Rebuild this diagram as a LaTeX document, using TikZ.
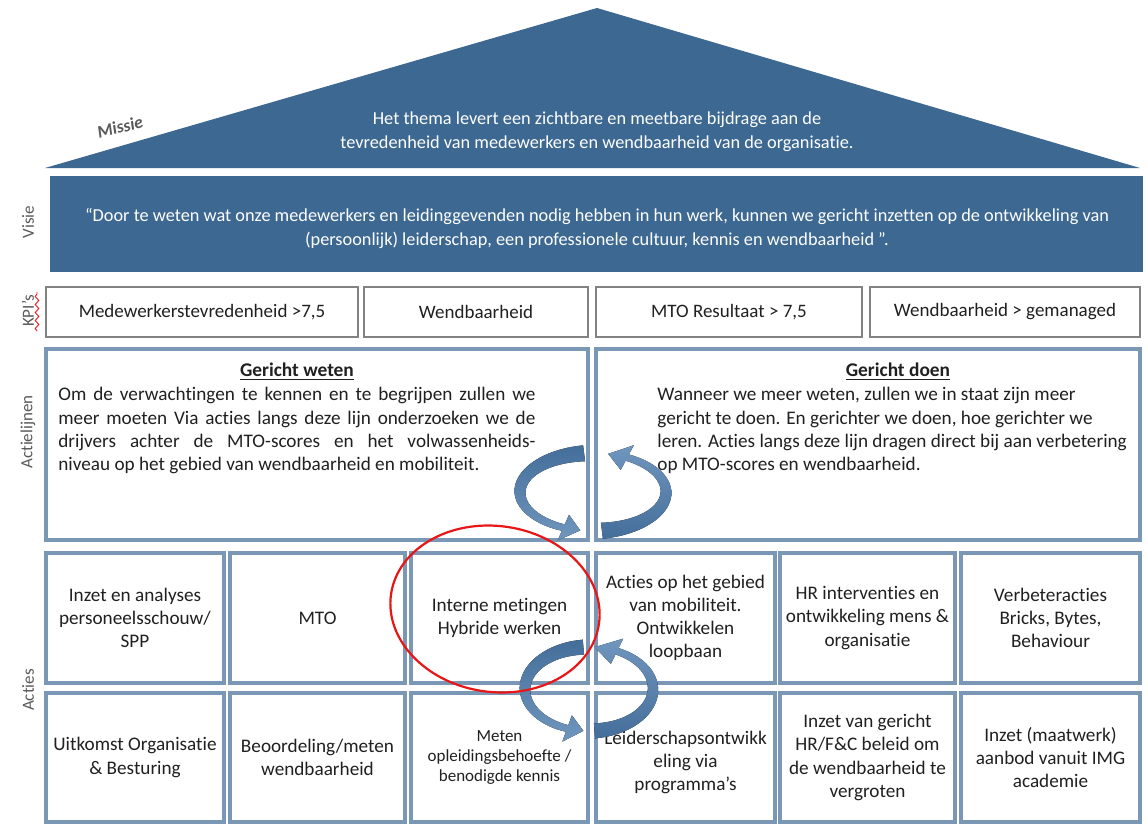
\documentclass[tikz,border=0pt]{standalone}
\usepackage{fontspec}
\setmainfont{Carlito}[Ligatures=NoCommon]
\usetikzlibrary{shadows,decorations.pathmorphing}

\definecolor{roofblue}{RGB}{60,104,145}
\definecolor{boxblue}{RGB}{122,151,182}
\definecolor{kpigray}{RGB}{130,130,130}
\definecolor{labelgray}{RGB}{89,89,89}
\definecolor{txt}{RGB}{32,32,32}
\definecolor{arrowdark}{RGB}{68,110,154}
\definecolor{arrowlight}{RGB}{112,150,190}
\definecolor{ringred}{RGB}{232,22,22}

% tapered circular arrow along an ellipse:
% #1,#2 centre, #3,#4 radii, #5 tail angle, #6 head-base angle, #7 tip angle,
% #8 tail width, #9 width just before the head
\newcommand\curlarrow[9]{%
  \fill[arrowfill]
    plot[domain=#5:#6, samples=40, variable=\ang]
      ({#1+(#3+0.5*(#8+(#9-#8)*(\ang-#5)/(#6-#5)))*cos(\ang)},
       {#2-(#4+0.5*(#8+(#9-#8)*(\ang-#5)/(#6-#5)))*sin(\ang)})
    -- ({#1+(#3+14)*cos(#6)},{#2-(#4+14)*sin(#6)})
    -- ({#1+#3*cos(#7)},{#2-#4*sin(#7)})
    -- ({#1+(#3-14)*cos(#6)},{#2-(#4-14)*sin(#6)})
    -- plot[domain=#6:#5, samples=40, variable=\ang]
      ({#1+(#3-0.5*(#8+(#9-#8)*(\ang-#5)/(#6-#5)))*cos(\ang)},
       {#2-(#4-0.5*(#8+(#9-#8)*(\ang-#5)/(#6-#5)))*sin(\ang)})
    -- cycle;}

\begin{document}
\begin{tikzpicture}[x=0.5pt,y=-0.5pt,
  softshadow/.style={drop shadow={shadow xshift=0.7pt, shadow yshift=-0.7pt, opacity=0.25, fill=black!60}},
  kpibox/.style={draw=kpigray, line width=1.4pt, fill=white, softshadow, minimum height=25pt,
    inner sep=0pt, text=txt, font=\fontsize{9.5}{12}\selectfont},
  linebox/.style={draw=boxblue, line width=1.6pt, fill=white, softshadow, minimum height=95.5pt, inner sep=0pt},
  cellbox/.style={draw=boxblue, line width=1.6pt, fill=white, softshadow, inner sep=0pt,
    align=center, text=txt, font=\fontsize{9.6}{11.6}\selectfont},
  rowone/.style={cellbox, minimum height=65pt},
  rowtwo/.style={cellbox, minimum height=64.5pt},
  sidelabel/.style={rotate=90, text=labelgray, font=\fontsize{8.5}{10}\selectfont, inner sep=0pt},
  bodytext/.style={text=txt, font=\fontsize{9.6}{11.65}\selectfont, inner sep=0pt},
  headtext/.style={text=txt, font=\bfseries\fontsize{9.7}{11}\selectfont, inner sep=0pt},
  whitetext/.style={text=white, align=center, font=\fontsize{9.15}{12}\selectfont, inner sep=0pt}
]
\useasboundingbox (0,0) rectangle (1148,825);

% ---------- roof: mission ----------
\fill[roofblue] (597,8) -- (1140,168) -- (45,168) -- cycle;
\node[whitetext] (missietekst) at (597,132)
  {Het thema levert een zichtbare en meetbare bijdrage aan de\\
   tevredenheid van medewerkers en wendbaarheid van de organisatie.};
\node[rotate=15, text=labelgray, font=\bfseries\itshape\fontsize{8.8}{10}\selectfont, inner sep=0pt]
  (missie) at (120,127) {Missie};

% ---------- vision band ----------
\node[fill=roofblue, minimum width=546.5pt, minimum height=48pt, inner sep=0pt] (visie) at (596.5,224) {};
\node[whitetext] (visietekst) at (597,228)
  {“Door te weten wat onze medewerkers en leidinggevenden nodig hebben in hun werk, kunnen we gericht inzetten op de ontwikkeling van\\
   (persoonlijk) leiderschap, een professionele cultuur, kennis en wendbaarheid ”.};

% ---------- side labels ----------
\node[sidelabel] (lvisie) at (28,222) {Visie};
\node[sidelabel] (lkpi) at (28,311) {KPI's};
\node[sidelabel] (lactielijnen) at (28,432) {Actielijnen};
\node[sidelabel] (lacties) at (28,690) {Acties};
\draw[ringred, line width=0.45pt, decorate,
      decoration={snake, amplitude=0.9, segment length=4}] (37,331) -- (37,292);

% ---------- KPI row ----------
\node[kpibox, minimum width=156pt] (kpi1) at (202,312) {Medewerkerstevredenheid >7,5};
\node[kpibox, minimum width=112pt] (kpi2) at (476,312) {Wendbaarheid};
\node[kpibox, minimum width=133pt] (kpi3) at (729,312) {MTO Resultaat > 7,5};
\node[kpibox, minimum width=135pt] (kpi4) at (1005,312) {Wendbaarheid > gemanaged};

% ---------- action lines ----------
\node[linebox, minimum width=271pt] (weten) at (317,444.5) {};
\node[linebox, minimum width=272pt] (doen) at (868,444.5) {};

\node[headtext] (wetenkop) at (297,372) {\underline{Gericht weten}};
\node[bodytext, text width=238.5pt, align=justify, anchor=north west] (wetentekst) at (58,387)
  {\hyphenpenalty=10000 Om de verwachtingen te kennen en te begrijpen zullen we\linebreak
   meer moeten Via acties langs deze lijn onderzoeken we de\linebreak
   drijvers achter de MTO-scores en het volwassenheids-\linebreak
   niveau op het gebied van wendbaarheid en mobiliteit.};

\node[headtext] (doenkop) at (898,372) {\underline{Gericht doen}};
\node[bodytext, align=left, anchor=north west] (doentekst) at (657,387)
  {Wanneer we meer weten, zullen we in staat zijn meer\\
   gericht te doen. En gerichter we doen, hoe gerichter we\\
   leren. Acties langs deze lijn dragen direct bij aan verbetering\\
   op MTO-scores en wendbaarheid.};

% ---------- actions, first row ----------
\node[rowone, minimum width=89pt]   (a1) at (135,618)   {Inzet en analyses\\personeelsschouw/\\SPP};
\node[rowone, minimum width=87.5pt] (a2) at (317.5,618) {MTO};
\node[rowone, minimum width=88.5pt] (a3) at (499.5,618) {Interne metingen\\Hybride werken};
\node[rowone, minimum width=89.5pt] (a4) at (685.5,618) {Acties op het gebied\\van mobiliteit.\\Ontwikkelen\\loopbaan};
\node[rowone, minimum width=87.5pt] (a5) at (867.5,618) {HR interventies en\\ontwikkeling mens \&\\organisatie};
\node[rowone, minimum width=89.5pt] (a6) at (1050.5,618) {Verbeteracties\\Bricks, Bytes,\\Behaviour};

% ---------- actions, second row ----------
\node[rowtwo, minimum width=89pt]   (b1) at (135,757.5)   {Uitkomst Organisatie\\\& Besturing};
\node[rowtwo, minimum width=87.5pt] (b2) at (317.5,757.5) {Beoordeling/meten\\wendbaarheid};
\node[rowtwo, minimum width=88.5pt, font=\fontsize{8.5}{10}\selectfont] (b3) at (499.5,757.5)
  {Meten\\opleidingsbehoefte /\\benodigde kennis};
\node[rowtwo, minimum width=89.5pt] (b4) at (685.5,757.5) {\mbox{}\\Leiderschapsontwikk\\eling via\\programma’s};
\node[rowtwo, minimum width=87.5pt] (b5) at (867.5,757.5) {Inzet van gericht\\HR/F\&C beleid om\\de wendbaarheid te\\vergroten};
\node[rowtwo, minimum width=89.5pt] (b6) at (1050.5,757.5) {Inzet (maatwerk)\\aanbod vanuit IMG\\academie};

% ---------- circular arrows ----------
\begin{scope}[arrowfill/.style={top color=arrowdark, bottom color=arrowlight}]
  \curlarrow{593}{492}{73}{39}{97}{246}{260}{16}{7}
  \curlarrow{589}{689}{64}{42}{95}{250}{265}{15}{7}
\end{scope}
\begin{scope}[arrowfill/.style={top color=arrowlight, bottom color=arrowdark}]
  \curlarrow{593}{492}{73}{39}{277}{422}{438}{16}{7}
  \curlarrow{589}{689}{64}{42}{275}{424}{445}{15}{7}
\end{scope}

% ---------- highlight ----------
\draw[ringred, line width=1.1pt, rotate around={-8:(495,609)}]
  (495,609) ellipse [x radius=105, y radius=83];
\end{tikzpicture}
\end{document}
